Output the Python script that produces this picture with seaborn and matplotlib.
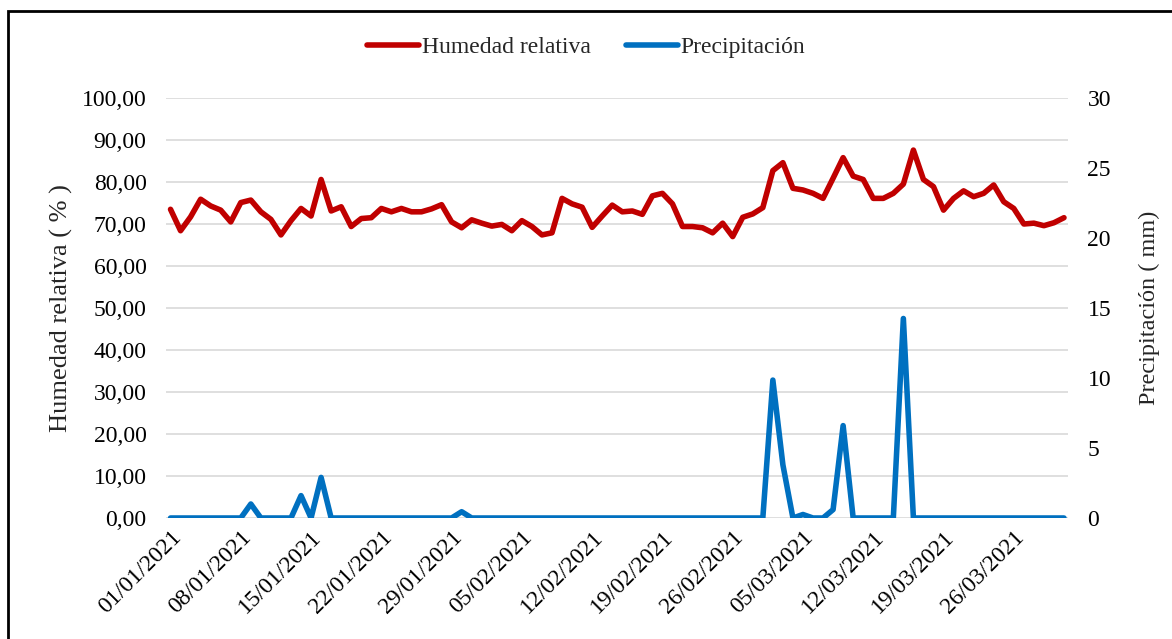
import numpy as np
import pandas as pd
import seaborn as sns
import matplotlib.pyplot as plt
from matplotlib.patches import Rectangle
from matplotlib.ticker import FuncFormatter

# daily values, 01/01/2021 - 31/03/2021
fechas = pd.date_range("2021-01-01", "2021-03-31", freq="D")

humedad = [
    73.5, 68.4, 71.7, 75.9, 74.3, 73.3, 70.5, 75.1, 75.7, 72.9,
    71.1, 67.4, 70.8, 73.7, 71.9, 80.6, 73.1, 74.1, 69.4, 71.3,
    71.5, 73.7, 72.9, 73.7, 72.9, 72.9, 73.6, 74.6, 70.5, 69.1,
    71.0, 70.2, 69.5, 69.9, 68.4, 70.8, 69.4, 67.4, 67.9, 76.1,
    74.8, 74.0, 69.2, 71.9, 74.5, 72.9, 73.1, 72.3, 76.7, 77.3,
    74.8, 69.4, 69.4, 69.1, 67.9, 70.2, 67.0, 71.6, 72.4, 73.9,
    82.7, 84.6, 78.5, 78.1, 77.3, 76.1, 80.9, 85.8, 81.4, 80.6,
    76.1, 76.1, 77.3, 79.5, 87.6, 80.6, 78.9, 73.3, 76.1, 77.9,
    76.5, 77.3, 79.3, 75.3, 73.7, 70.0, 70.2, 69.6, 70.3, 71.5,
]

precipitacion = [
    0, 0, 0, 0, 0, 0, 0, 0, 1.0, 0,
    0, 0, 0, 1.6, 0, 2.9, 0, 0, 0, 0,
    0, 0, 0, 0, 0, 0, 0, 0, 0, 0.45,
    0, 0, 0, 0, 0, 0, 0, 0, 0, 0,
    0, 0, 0, 0, 0, 0, 0, 0, 0, 0,
    0, 0, 0, 0, 0, 0, 0, 0, 0, 0,
    9.85, 3.8, 0, 0.25, 0, 0, 0.6, 6.6, 0, 0,
    0, 0, 0, 14.25, 0, 0, 0, 0, 0, 0,
    0, 0, 0, 0, 0, 0, 0, 0, 0, 0,
]

df = pd.DataFrame({"dia": np.arange(len(fechas)), "humedad": humedad,
                   "precipitacion": precipitacion})
tick_pos = df["dia"][::7]
tick_lab = [f.strftime("%d/%m/%Y") for f in fechas[::7]]

sns.set_style("white")
plt.rcParams["font.family"] = ["Liberation Serif", "DejaVu Serif"]

fig = plt.figure(figsize=(11.72, 6.39), dpi=100)
ax = fig.add_axes([166 / 1172, 1 - 518 / 639, (1068 - 166) / 1172, 420 / 639])
ax2 = ax.twinx()

rojo = "#C00000"
azul = "#0070C0"

sns.lineplot(data=df, x="dia", y="humedad", ax=ax, color=rojo, lw=4,
             label="Humedad relativa", legend=False, zorder=3)
sns.lineplot(data=df, x="dia", y="precipitacion", ax=ax2, color=azul, lw=4,
             label="Precipitación", legend=False, zorder=3)

ax.set_xlim(-0.45, 89.4)
ax.set_ylim(0, 100)
ax2.set_ylim(0, 30)
ax.set_yticks(np.arange(0, 101, 10))
ax2.set_yticks(np.arange(0, 31, 5))
ax.yaxis.set_major_formatter(FuncFormatter(lambda v, p: f"{v:.2f}".replace(".", ",")))

ax.grid(axis="y", color="#D9D9D9", lw=1.2)
ax.set_axisbelow(True)
for a in (ax, ax2):
    for s in a.spines.values():
        s.set_visible(False)
    a.tick_params(length=0, labelsize=17, colors="black")
ax.tick_params(axis="y", pad=14)
ax2.tick_params(axis="y", pad=14)

ax.set_xticks(tick_pos)
ax.set_xticklabels(tick_lab, rotation=45, ha="right", rotation_mode="anchor")
ax.tick_params(axis="x", pad=6)
ax.set_xlabel("")
ax.set_ylabel("Humedad relativa ( % )", fontsize=19, labelpad=6)
ax2.set_ylabel("Precipitación ( mm)", fontsize=17.5, labelpad=20)

h1, l1 = ax.get_legend_handles_labels()
h2, l2 = ax2.get_legend_handles_labels()
fig.legend(h1 + h2, l1 + l2, loc="center", bbox_to_anchor=(0.5, 1 - 47 / 639),
           ncol=2, frameon=False, fontsize=17, handlelength=2.2,
           handletextpad=0.12, columnspacing=1.5)

fig.patches.append(Rectangle((8 / 1172, -0.5), 2, 1.5 - 11 / 639,
                             transform=fig.transFigure, fill=False,
                             edgecolor="black", lw=2, zorder=10))

fig.savefig("out.png", dpi=100)
